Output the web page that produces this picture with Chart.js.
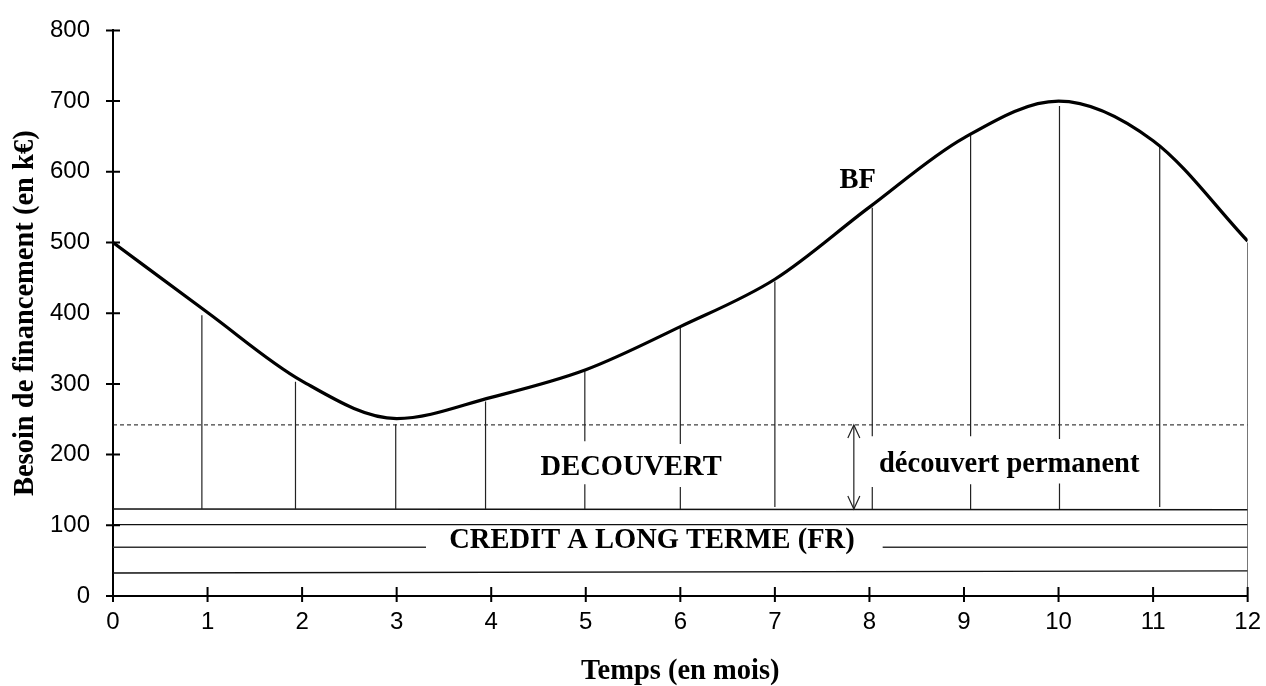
<!DOCTYPE html>
<html>
<head>
<meta charset="utf-8">
<script src="https://cdn.jsdelivr.net/npm/chart.js@4"></script>
<style>
html,body{margin:0;padding:0;background:#ffffff;}
#wrap{width:1266px;height:686px;}
</style>
</head>
<body>
<div id="wrap"><canvas id="c" width="1266" height="686"></canvas></div>
<script>
// ---------- data ----------
const months = [0,1,2,3,4,5,6,7,8,9,10,11,12];
const bfValues = [500, 401, 304, 251, 281, 320, 381, 448, 550, 648, 700, 644, 502];
const yTickValues = [0,100,200,300,400,500,600,700,800];

// vertical drop lines under the curve
const dropX      = [0.94, 1.93, 2.99, 3.94, 4.99, 6.00, 7.00, 8.03, 9.07, 10.01, 11.07, 12];
const dropTop    = [397, 303, 243, 275, 318, 380, 445, 549, 652, 693, 638, 500];
const dropBottom = [123, 123, 123, 123, 123, 123, 126, 123, 123, 123, 126, 0];
const gapUpper   = [null, null, null, null, 219, 215, null, 226, 226, 222, null, null];
const gapLower   = [null, null, null, null, 158, 154, null, 154, 158, 159, null, null];

// horizontal levels (left value, right value)
const creditLineLeft  = [123, 101, 32.5];
const creditLineRight = [122, 101, 35.5];
const frLevel = 69;
const frGap = [3.31, 8.14];
const permanentLevel = 242;
const arrowX = 7.835;
const arrowRange = [123, 242];

const xMin = 0, xMax = 12;

// ---------- annotation texts ----------
const annotations = [
  {text:'BF', x:7.877, y:577},
  {text:'DECOUVERT', x:5.48, y:171},
  {text:'découvert permanent', x:9.478, y:175},
  {text:'CREDIT A LONG TERME (FR)', x:5.70, y:68}
];

const SERIF = '"Liberation Serif", "Times New Roman", serif';
const SANS = '"Liberation Sans", Arial, sans-serif';

// ---------- build datasets ----------
const bfData = months.map((m,i)=>({x:m, y:bfValues[i]}));

const dropData = [];
dropX.forEach((x,i)=>{
  if (gapUpper[i] !== null) {
    dropData.push({x, y:dropTop[i]}, {x, y:gapUpper[i]}, {x, y:null});
    dropData.push({x, y:gapLower[i]}, {x, y:dropBottom[i]}, {x, y:null});
  } else {
    dropData.push({x, y:dropTop[i]}, {x, y:dropBottom[i]}, {x, y:null});
  }
});

const creditData = [];
creditLineLeft.forEach((v,i)=>{
  creditData.push({x:xMin, y:v}, {x:xMax, y:creditLineRight[i]}, {x:xMax, y:null});
});
const frData = [
  {x:xMin, y:frLevel}, {x:frGap[0], y:frLevel}, {x:frGap[0], y:null},
  {x:frGap[1], y:frLevel}, {x:xMax, y:frLevel}
];
const dashData = [{x:xMin, y:permanentLevel}, {x:xMax, y:permanentLevel}];
const arrowData = [{x:arrowX, y:arrowRange[0]}, {x:arrowX, y:arrowRange[1]}];

const thin = {pointRadius:0, pointHoverRadius:0, fill:false, spanGaps:false, tension:0};

// ---------- plugin: crossing ticks, arrow heads, texts ----------
const decor = {
  id:'decor',
  afterDraw(chart){
    const ctx = chart.ctx;
    const xs = chart.scales.x, ys = chart.scales.y;
    const area = chart.chartArea;
    ctx.save();
    // crossing tick marks
    ctx.strokeStyle = '#000';
    ctx.lineWidth = 2;
    ctx.beginPath();
    ys.ticks.forEach(t=>{
      const py = ys.getPixelForValue(t.value);
      ctx.moveTo(area.left-7, py); ctx.lineTo(area.left+7, py);
    });
    xs.ticks.forEach(t=>{
      const px = xs.getPixelForValue(t.value);
      ctx.moveTo(px, area.bottom-9); ctx.lineTo(px, area.bottom+6);
    });
    ctx.stroke();

    // arrow heads
    const ax = xs.getPixelForValue(arrowX);
    const aTop = ys.getPixelForValue(arrowRange[1]);
    const aBot = ys.getPixelForValue(arrowRange[0]);
    ctx.lineWidth = 1.2;
    ctx.strokeStyle = '#222';
    ctx.beginPath();
    ctx.moveTo(ax-6, aTop+13); ctx.lineTo(ax, aTop); ctx.lineTo(ax+6, aTop+13);
    ctx.moveTo(ax-6, aBot-13); ctx.lineTo(ax, aBot); ctx.lineTo(ax+6, aBot-13);
    ctx.stroke();

    // texts
    ctx.fillStyle = '#000';
    ctx.font = 'bold 28.5px ' + SERIF;
    ctx.textAlign = 'center';
    ctx.textBaseline = 'alphabetic';
    annotations.forEach(a=>{
      ctx.fillText(a.text, xs.getPixelForValue(a.x), ys.getPixelForValue(a.y));
    });
    ctx.restore();
  }
};

new Chart(document.getElementById('c'), {
  type:'line',
  data:{
    datasets:[
      {label:'BF', data:bfData, borderColor:'#000', borderWidth:3.2, pointRadius:0, pointHoverRadius:0,
       fill:false, cubicInterpolationMode:'monotone', order:0},
      Object.assign({label:'drops', data:dropData, borderColor:'#222', borderWidth:1.2, order:2}, thin),
      Object.assign({label:'credit', data:creditData, borderColor:'#111', borderWidth:1.4, order:2}, thin),
      Object.assign({label:'fr', data:frData, borderColor:'#333', borderWidth:1.4, order:2}, thin),
      Object.assign({label:'dash', data:dashData, borderColor:'#111', borderWidth:1, borderDash:[4,3], order:2}, thin),
      Object.assign({label:'arrow', data:arrowData, borderColor:'#222', borderWidth:1.2, order:2}, thin)
    ]
  },
  options:{
    responsive:false,
    animation:false,
    events:[],
    layout:{padding:{top:27, right:15, bottom:0, left:0}},
    plugins:{legend:{display:false}, tooltip:{enabled:false}},
    scales:{
      x:{
        type:'linear', min:xMin, max:xMax,
        afterFit(s){ s.height = 90; },
        ticks:{stepSize:1, color:'#000', padding:5, font:{family:SANS, size:24}},
        grid:{display:true, drawOnChartArea:false, drawTicks:true, tickLength:7, color:'rgba(0,0,0,0)'},
        border:{display:true, color:'#000', width:2},
        title:{display:true, text:'Temps (en mois)', color:'#000',
               font:{family:SERIF, size:28.5, weight:'bold', lineHeight:1}, padding:{top:0, bottom:0}}
      },
      y:{
        type:'linear', min:0, max:800,
        afterFit(s){ s.width = 113; },
        afterBuildTicks(s){ s.ticks = yTickValues.map(v=>({value:v})); },
        ticks:{color:'#000', padding:16, font:{family:SANS, size:24}},
        grid:{display:true, drawOnChartArea:false, drawTicks:true, tickLength:7, color:'rgba(0,0,0,0)'},
        border:{display:true, color:'#000', width:2},
        title:{display:true, text:'Besoin de financement (en k€)', color:'#000',
               font:{family:SERIF, size:28.5, weight:'bold', lineHeight:1}, padding:{top:11, bottom:0}}
      }
    }
  },
  plugins:[decor]
});
</script>
</body>
</html>
